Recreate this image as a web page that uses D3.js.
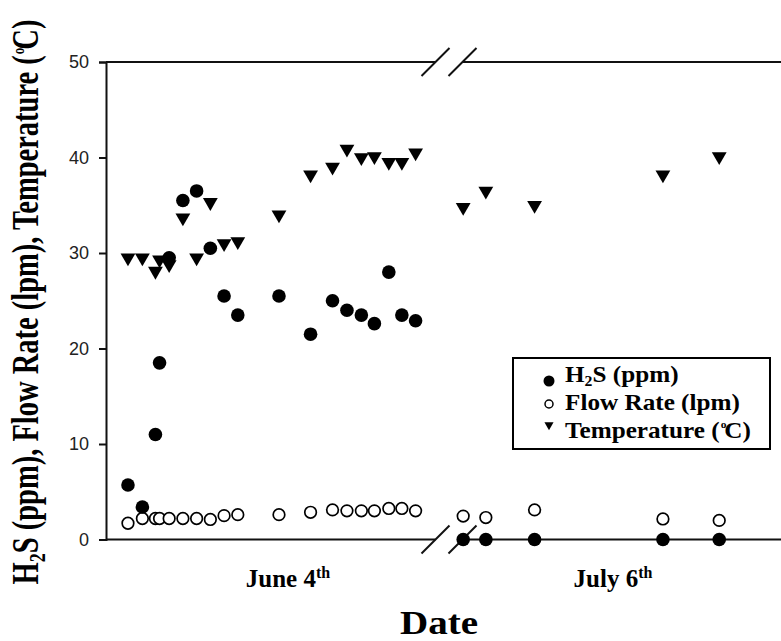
<!DOCTYPE html>
<html>
<head>
<meta charset="utf-8">
<script src="https://cdn.jsdelivr.net/npm/d3@7"></script>
<style>
  body { margin: 0; background: #fff; }
  svg { display: block; }
  .serif { font-family: "Liberation Serif", "Times New Roman", serif; font-weight: bold; fill: #000; }
</style>
</head>
<body>
<div id="vis"></div>
<script>
// hours into each sampling day
var juneHours = [1.6, 2.65, 3.6, 3.9, 4.6, 5.6, 6.6, 7.6, 8.6, 9.6, 12.6, 14.9, 16.5, 17.55, 18.6, 19.55, 20.6, 21.55, 22.55],
    juneH2S   = [5.7, 3.4, 11.0, 18.5, 29.5, 35.5, 36.5, 30.5, 25.5, 23.5, 25.5, 21.5, 25.0, 24.0, 23.5, 22.6, 28.0, 23.5, 22.9],
    juneFlow  = [1.7, 2.2, 2.2, 2.2, 2.2, 2.2, 2.2, 2.1, 2.5, 2.6, 2.6, 2.85, 3.1, 3.0, 3.0, 3.0, 3.25, 3.25, 3.0],
    juneTemp  = [29.5, 29.5, 28.1, 29.3, 28.8, 33.7, 29.5, 35.3, 31.0, 31.2, 34.0, 38.2, 39.0, 40.9, 40.0, 40.1, 39.5, 39.5, 40.5];

var julyHours = [0.05, 1.7, 5.25, 14.6, 18.7],
    julyH2S   = [0, 0, 0, 0, 0],
    julyFlow  = [2.45, 2.3, 3.1, 2.15, 2.0],
    julyTemp  = [34.8, 36.5, 35.0, 38.2, 40.1];

var yTicks = [0, 10, 20, 30, 40, 50],
    dayLabels = ["June 4", "July 6"],
    legendLabels = ["H2S (ppm)", "Flow Rate (lpm)", "Temperature (C)"];

var width = 781, height = 641,
    padL = 106, padR = 781, padT = 62, padB = 539.5,
    gapLeft = 435.5, gapRight = 462.5;

var svg = d3.select("#vis").append("svg")
    .attr("width", width)
    .attr("height", height);

var y = d3.scaleLinear().domain([0, 50]).range([padB, padT]);
var xJune = d3.scaleLinear().domain([0, 24]).range([padL, gapLeft]);
var xJuly = d3.scaleLinear().domain([0, 23.2]).range([gapRight, padR]);

// y axis
var yAxis = svg.append("g")
    .attr("transform", "translate(" + padL + ",0)")
    .call(d3.axisLeft(y).tickValues(yTicks).tickSize(7).tickPadding(10));
yAxis.select(".domain").attr("stroke", "#111").attr("stroke-width", 2);
yAxis.selectAll(".tick line").attr("stroke", "#111").attr("stroke-width", 2);
yAxis.selectAll(".tick text")
    .attr("font-family", "Liberation Sans, Arial, sans-serif")
    .attr("font-size", 18)
    .attr("fill", "#222");

// broken top and bottom frame lines
[padT, padB].forEach(function(yy) {
  svg.append("line").attr("x1", padL).attr("x2", gapLeft).attr("y1", yy).attr("y2", yy)
     .attr("stroke", "#111").attr("stroke-width", 2);
  svg.append("line").attr("x1", gapRight).attr("x2", padR).attr("y1", yy).attr("y2", yy)
     .attr("stroke", "#111").attr("stroke-width", 2);
  [gapLeft, gapRight].forEach(function(cx) {
    svg.append("line")
      .attr("x1", cx - 14).attr("y1", yy + 14)
      .attr("x2", cx + 14).attr("y2", yy - 14)
      .attr("stroke", "#111").attr("stroke-width", 2);
  });
});

function rows(hours, vals, xs) {
  return hours.map(function(h, i) { return {x: xs(h), v: vals[i]}; });
}

var flowPts = rows(juneHours, juneFlow, xJune).concat(rows(julyHours, julyFlow, xJuly)),
    h2sPts  = rows(juneHours, juneH2S, xJune).concat(rows(julyHours, julyH2S, xJuly)),
    tempPts = rows(juneHours, juneTemp, xJune).concat(rows(julyHours, julyTemp, xJuly));

var tri = d3.symbol().type(d3.symbolTriangle).size(95);

svg.selectAll(".flow").data(flowPts).enter().append("circle")
    .attr("class", "flow")
    .attr("cx", function(d) { return d.x; })
    .attr("cy", function(d) { return y(d.v); })
    .attr("r", 5.8)
    .attr("fill", "#fff")
    .attr("stroke", "#000")
    .attr("stroke-width", 1.7);

svg.selectAll(".temp").data(tempPts).enter().append("path")
    .attr("class", "temp")
    .attr("d", tri)
    .attr("transform", function(d) { return "translate(" + d.x + "," + y(d.v) + ") rotate(180)"; })
    .attr("fill", "#000");

svg.selectAll(".h2s").data(h2sPts).enter().append("circle")
    .attr("class", "h2s")
    .attr("cx", function(d) { return d.x; })
    .attr("cy", function(d) { return y(d.v); })
    .attr("r", 6.8)
    .attr("fill", "#000");

// legend
var lg = svg.append("g").attr("transform", "translate(513,358)");
lg.append("rect").attr("width", 257).attr("height", 91)
    .attr("fill", "#fff").attr("stroke", "#000").attr("stroke-width", 2);
lg.append("circle").attr("cx", 36).attr("cy", 23).attr("r", 5.5).attr("fill", "#000");
lg.append("circle").attr("cx", 36).attr("cy", 46).attr("r", 4).attr("fill", "#fff")
    .attr("stroke", "#000").attr("stroke-width", 1.5);
lg.append("path").attr("d", d3.symbol().type(d3.symbolTriangle).size(36))
    .attr("transform", "translate(36,67) rotate(180)").attr("fill", "#000");

var legendY = [24, 52, 80];
legendY.forEach(function(by, i) {
  var t = lg.append("text").attr("class", "serif")
      .attr("font-size", 24)
      .attr("transform", "translate(52," + by + ") scale(1.05,1)");
  if (i === 0) {
    t.append("tspan").text("H");
    t.append("tspan").attr("font-size", 15).attr("dy", 4).text("2");
    t.append("tspan").attr("dy", -4).text("S (ppm)");
  } else if (i === 1) {
    t.text(legendLabels[1]);
  } else {
    t.append("tspan").text("Temperature (");
    t.append("tspan").attr("font-size", 11).attr("dy", -10).attr("dx", 1).text("o");
    t.append("tspan").attr("dy", 10).attr("dx", -2).text("C)");
  }
});

// day labels
[[288, dayLabels[0]], [613, dayLabels[1]]].forEach(function(p) {
  var t = svg.append("text").attr("class", "serif")
      .attr("x", p[0]).attr("y", 587)
      .attr("text-anchor", "middle")
      .attr("font-size", 25);
  t.append("tspan").text(p[1]);
  t.append("tspan").attr("font-size", 16).attr("dy", -9).text("th");
});

// axis titles
svg.append("text").attr("class", "serif")
    .attr("transform", "translate(439,634) scale(1.15,1)")
    .attr("text-anchor", "middle")
    .attr("font-size", 34)
    .text("Date");

var yt = svg.append("text").attr("class", "serif")
    .attr("transform", "translate(38,302) scale(1.3,1) rotate(-90)")
    .attr("text-anchor", "middle")
    .attr("font-size", 28.5);
yt.append("tspan").text("H");
yt.append("tspan").attr("font-size", 18).attr("dy", 5).text("2");
yt.append("tspan").attr("dy", -5).text("S (ppm), Flow Rate (lpm), Temperature (");
yt.append("tspan").attr("font-size", 13).attr("dy", -11).attr("dx", 1).text("o");
yt.append("tspan").attr("dy", 11).attr("dx", -2).text("C)");
</script>
</body>
</html>
